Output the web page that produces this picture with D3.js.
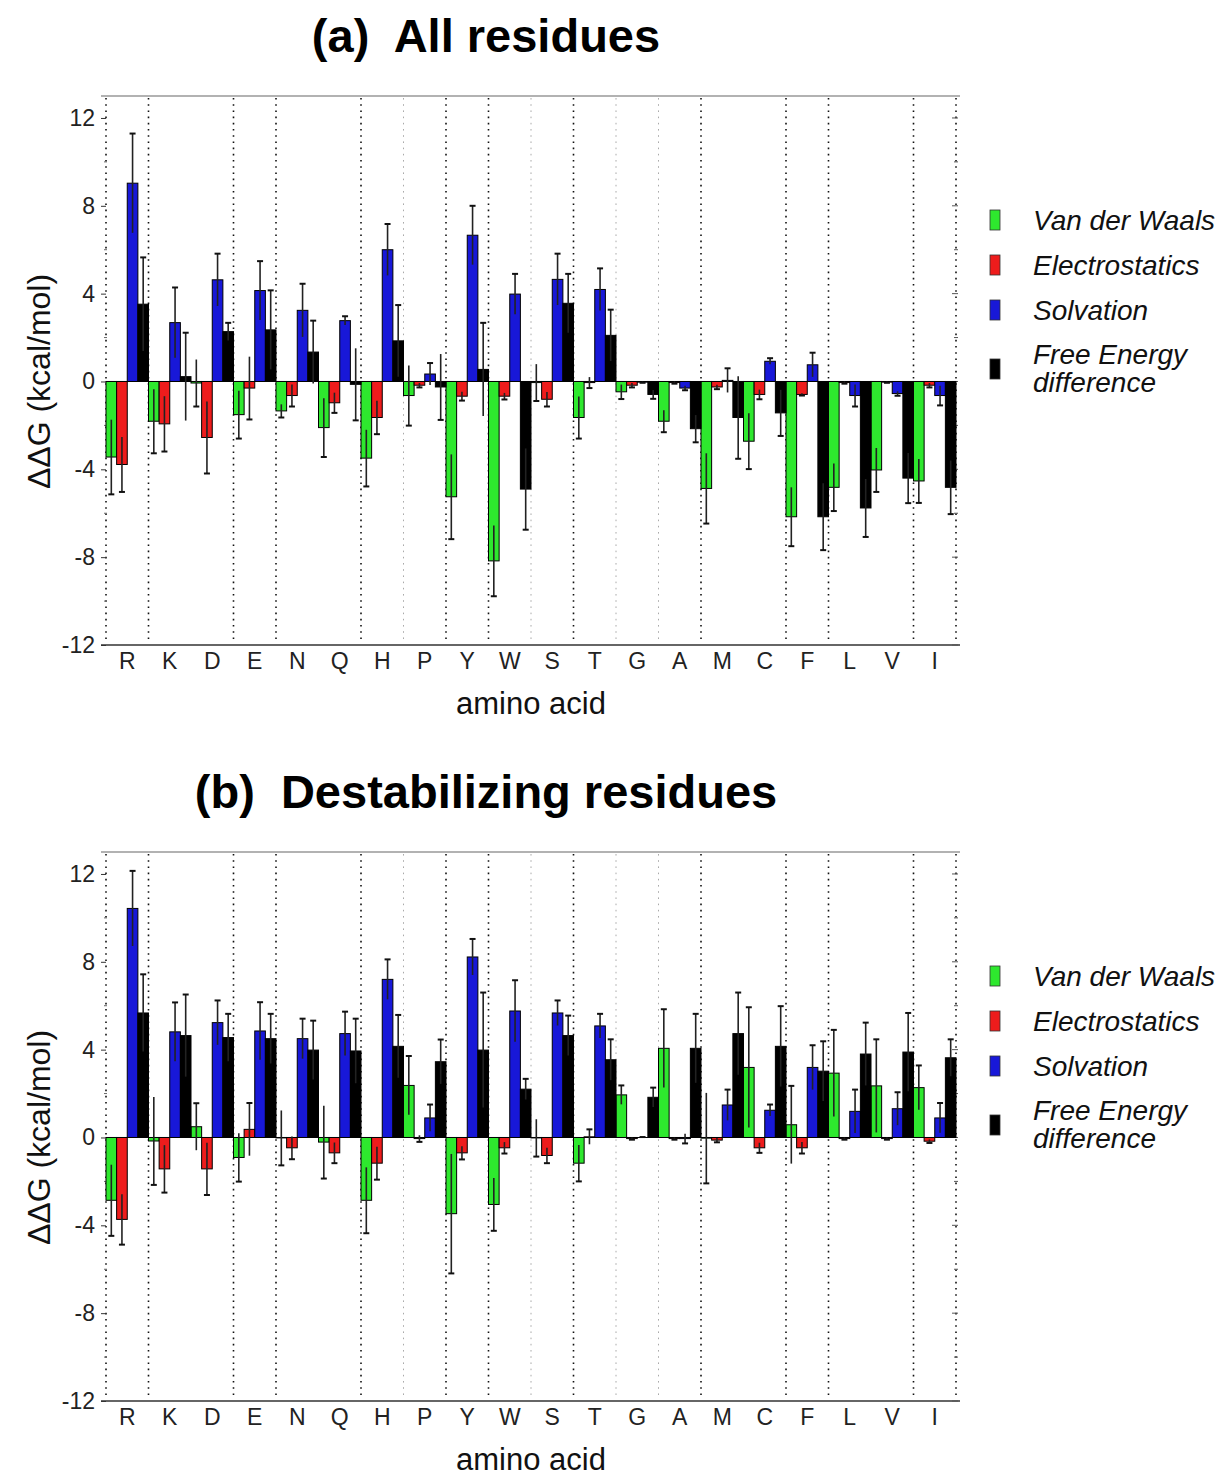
<!DOCTYPE html>
<html>
<head>
<meta charset="utf-8">
<script src="https://cdn.jsdelivr.net/npm/d3@7"></script>
<style>
  body { margin: 0; background: #fff; }
  svg { font-family: "Liberation Sans", Arial, sans-serif; }
</style>
</head>
<body>
<div id="chart"></div>
<script>
var categories = ["R","K","D","E","N","Q","H","P","Y","W","S","T","G","A","M","C","F","L","V","I"];
var seriesNames = ["Van der Waals", "Electrostatics", "Solvation", "Free Energy difference"];
var seriesColors = ["#2ee82e", "#ee1c1c", "#1818d8", "#000000"];
var majorTicks = [-12, -8, -4, 0, 4, 8, 12];
var minorTicks = [-10, -6, -2, 2, 6, 10];
// boundaries (0..20) that carry a dotted separator; faint ones drawn lighter
var separators = [0,1,3,4,6,7,8,9,10,11,12,13,14,16,17,19,20];
var faintSeparators = [7,10,12,13];

// (a) all residues
var vdwA     = [-3.44,-1.81,-0.07,-1.51,-1.34,-2.10,-3.49,-0.64,-5.25,-8.17,-0.05,-1.64,-0.47,-1.81,-4.87,-2.72,-6.16,-4.82,-4.03,-4.53];
var vdwErrA  = [ 1.70, 1.46, 1.07, 1.09, 0.30, 1.34, 1.29, 1.37, 1.93, 1.61, 0.84, 0.96, 0.33, 0.50, 1.60, 1.27, 1.34, 1.08, 1.00, 1.00];
var elecA    = [-3.78,-1.93,-2.55,-0.30,-0.64,-0.97,-1.64,-0.17,-0.67,-0.67,-0.81,-0.05,-0.17,-0.05,-0.25,-0.59,-0.59,-0.05,-0.03,-0.17];
var elecErrA = [ 1.25, 1.26, 1.64, 1.43, 0.50, 0.46, 0.76, 0.10, 0.20, 0.15, 0.33, 0.25, 0.10, 0.05, 0.10, 0.22, 0.05, 0.05, 0.03, 0.10];
var solvA    = [ 9.03, 2.68, 4.63, 4.14, 3.24, 2.77, 6.00, 0.34, 6.66, 3.98, 4.65, 4.19,-0.03,-0.30, 0.05, 0.92, 0.76,-0.64,-0.55,-0.64];
var solvErrA = [ 2.26, 1.60, 1.19, 1.34, 1.21, 0.20, 1.17, 0.50, 1.34, 0.92, 1.17, 0.96, 0.03, 0.10, 0.55, 0.14, 0.55, 0.50, 0.10, 0.45];
var freeA    = [ 3.52, 0.22, 2.27, 2.35, 1.34,-0.13, 1.85,-0.25, 0.55,-4.90, 3.56, 2.10,-0.59,-2.15,-1.64,-1.43,-6.16,-5.76,-4.40,-4.82];
var freeErrA = [ 2.13, 2.00, 0.40, 1.80, 1.43, 1.64, 1.63, 1.50, 2.12, 1.85, 1.34, 1.17, 0.20, 0.62, 1.88, 1.05, 1.52, 1.32, 1.14, 1.22];

// (b) destabilizing residues
var vdwB     = [-2.86,-0.16, 0.49,-0.91,-0.02,-0.21,-2.86, 2.37,-3.47,-3.05,-0.02,-1.17, 1.94, 4.06,-0.03, 3.19, 0.58, 2.93, 2.35, 2.27];
var vdwErrB  = [ 1.62, 2.00, 1.07, 1.10, 1.25, 1.66, 1.50, 1.34, 2.72, 1.20, 0.85, 0.83, 0.43, 1.78, 2.06, 2.74, 1.77, 1.97, 2.12, 1.01];
var elecB    = [-3.73,-1.43,-1.43, 0.37,-0.47,-0.70,-1.17,-0.05,-0.70,-0.47,-0.82, 0.03,-0.05,-0.05,-0.12,-0.47,-0.47,-0.05,-0.05,-0.17];
var elecErrB = [ 1.15, 1.08, 1.19, 1.20, 0.52, 0.47, 0.75, 0.15, 0.30, 0.26, 0.35, 0.34, 0.05, 0.05, 0.10, 0.23, 0.26, 0.05, 0.05, 0.08];
var solvB    = [10.43, 4.81, 5.23, 4.85, 4.50, 4.73, 7.20, 0.89, 8.22, 5.76, 5.67, 5.08, 0.00,-0.05, 1.48, 1.24, 3.19, 1.19, 1.31, 0.89];
var solvErrB = [ 1.71, 1.34, 1.01, 1.31, 0.91, 1.00, 0.91, 0.61, 0.82, 1.40, 0.57, 0.55, 0.02, 0.22, 0.70, 0.26, 1.01, 0.99, 0.75, 0.68];
var freeB    = [ 5.67, 4.64, 4.55, 4.50, 3.98, 3.94, 4.15, 3.45, 3.98, 2.20, 4.64, 3.54, 1.83, 4.06, 4.73, 4.15, 3.02, 3.80, 3.89, 3.63];
var freeErrB = [ 1.76, 1.87, 1.08, 1.13, 1.34, 1.47, 1.43, 1.01, 2.62, 0.47, 0.91, 0.93, 0.44, 1.57, 1.87, 1.83, 1.36, 1.43, 1.78, 0.84];

var width = 1227, height = 1477;
var svg = d3.select("#chart").append("svg")
    .attr("width", width)
    .attr("height", height);

var plotLeft = 101, plotRight = 960, plotTop = 96, plotBottom = 645;

var x = d3.scaleBand().domain(categories).range([106, 956]).padding(0);
var xSub = d3.scaleBand().domain(d3.range(4)).range([0, x.bandwidth()]).padding(0);
var y = d3.scaleLinear().domain([-12, 13]).range([plotBottom, plotTop]);

function drawPanel(offsetY, title, series) {
  var g = svg.append("g").attr("transform", `translate(0,${offsetY})`);

  g.append("text")
    .attr("x", 486).attr("y", 52)
    .attr("text-anchor", "middle")
    .style("font-size", "47px").style("font-weight", "bold")
    .attr("xml:space", "preserve")
    .text(title);

  // frame: top grey line, bottom axis line
  g.append("line").attr("x1", plotLeft).attr("x2", plotRight)
    .attr("y1", plotTop).attr("y2", plotTop)
    .attr("stroke", "#999").attr("stroke-width", 1.5);
  g.append("line").attr("x1", plotLeft).attr("x2", plotRight)
    .attr("y1", plotBottom).attr("y2", plotBottom)
    .attr("stroke", "#333").attr("stroke-width", 1.5);

  // dotted separators
  var band = x.step();
  g.append("g").selectAll("line")
    .data(separators)
    .join("line")
      .attr("x1", d => 106 + d * band).attr("x2", d => 106 + d * band)
      .attr("y1", plotTop + 2).attr("y2", plotBottom - 2)
      .attr("stroke", d => faintSeparators.includes(d) ? "#aaa" : "#111")
      .attr("stroke-width", d => faintSeparators.includes(d) ? 1 : 1.6)
      .attr("stroke-dasharray", "1.6,4.6");

  // y axis ticks left and right
  var yAxis = d3.axisLeft(y).tickValues(majorTicks).tickSize(5).tickPadding(6)
    .tickFormat(d => String(d));
  var ya = g.append("g").attr("transform", `translate(${plotLeft + 5},0)`).call(yAxis);
  ya.select(".domain").remove();
  ya.selectAll("text").style("font-size", "23px").attr("fill", "#222");
  ya.selectAll("line").attr("stroke", "#333");
  g.append("g").selectAll("line").data(minorTicks).join("line")
    .attr("x1", plotLeft + 3).attr("x2", plotLeft + 6)
    .attr("y1", d => y(d)).attr("y2", d => y(d))
    .attr("stroke", "#666");
  g.append("g").selectAll("line").data(majorTicks.concat(minorTicks)).join("line")
    .attr("x1", d => majorTicks.includes(d) ? 952 : 954).attr("x2", 958)
    .attr("y1", d => y(d)).attr("y2", d => y(d))
    .attr("stroke", "#555");

  // x axis labels
  var xAxis = d3.axisBottom(x).tickSize(0).tickPadding(8);
  var xa = g.append("g").attr("transform", `translate(0,${plotBottom})`).call(xAxis);
  xa.select(".domain").remove();
  xa.selectAll("text").style("font-size", "23px").attr("fill", "#222");

  g.append("text")
    .attr("x", 531).attr("y", 714)
    .attr("text-anchor", "middle")
    .style("font-size", "31px").attr("fill", "#111")
    .text("amino acid");

  g.append("text")
    .attr("transform", `translate(50,${y(0)}) rotate(-90)`)
    .attr("text-anchor", "middle")
    .style("font-size", "32px").attr("fill", "#111")
    .text("ΔΔG (kcal/mol)");

  // bars
  var rows = [];
  series.forEach((s, si) => {
    s.values.forEach((v, ci) => {
      rows.push({cat: categories[ci], si: si, v: v, e: s.errs[ci]});
    });
  });

  g.append("g").selectAll("rect")
    .data(rows)
    .join("rect")
      .attr("x", d => x(d.cat) + xSub(d.si))
      .attr("width", xSub.bandwidth())
      .attr("y", d => y(Math.max(0, d.v)))
      .attr("height", d => Math.abs(y(d.v) - y(0)))
      .attr("fill", d => seriesColors[d.si])
      .attr("stroke", "#000")
      .attr("stroke-width", 1);

  // zero line
  g.append("line").attr("x1", 106).attr("x2", 956)
    .attr("y1", y(0)).attr("y2", y(0))
    .attr("stroke", "#000").attr("stroke-width", 1.2);

  // error bars
  var eg = g.append("g").selectAll("g")
    .data(rows)
    .join("g")
      .attr("transform", d => `translate(${x(d.cat) + xSub(d.si) + xSub.bandwidth() / 2},0)`);
  eg.append("line")
    .attr("y1", d => y(d.v - d.e)).attr("y2", d => y(d.v + d.e))
    .attr("stroke", "#222").attr("stroke-width", 1.6);
  eg.append("line")
    .attr("x1", -3).attr("x2", 3)
    .attr("y1", d => y(d.v + (d.v < 0 ? -d.e : d.e)))
    .attr("y2", d => y(d.v + (d.v < 0 ? -d.e : d.e)))
    .attr("stroke", "#111").attr("stroke-width", 2);

  // legend
  var legendY = [220, 265, 310, 369];
  var lg = g.append("g").selectAll("g")
    .data(seriesNames)
    .join("g")
      .attr("transform", (d, i) => `translate(990,${legendY[i]})`);
  lg.append("rect")
    .attr("x", 0).attr("y", -10).attr("width", 10).attr("height", 20)
    .attr("fill", (d, i) => seriesColors[i])
    .attr("stroke", "#333").attr("stroke-width", 0.8);
  lg.each(function(d) {
    var parts = d === "Free Energy difference" ? ["Free Energy", "difference"] : [d];
    var start = parts.length > 1 ? -5 : 10;
    parts.forEach((p, k) => {
      d3.select(this).append("text")
        .attr("x", 43).attr("y", start + k * 28)
        .style("font-size", "28px").style("font-style", "italic").attr("fill", "#111")
        .text(p);
    });
  });
}

drawPanel(0, "(a)  All residues", [
  {values: vdwA, errs: vdwErrA},
  {values: elecA, errs: elecErrA},
  {values: solvA, errs: solvErrA},
  {values: freeA, errs: freeErrA}
]);

drawPanel(756, "(b)  Destabilizing residues", [
  {values: vdwB, errs: vdwErrB},
  {values: elecB, errs: elecErrB},
  {values: solvB, errs: solvErrB},
  {values: freeB, errs: freeErrB}
]);
</script>
</body>
</html>
